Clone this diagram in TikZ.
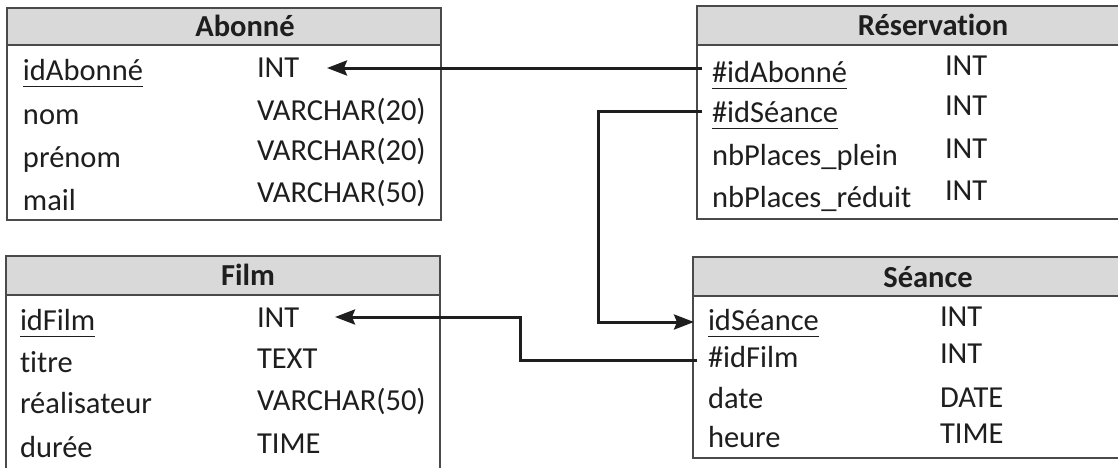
\documentclass[tikz,border=0pt]{standalone}
\usepackage{fontspec}
\setmainfont{Carlito}[Ligatures=NoCommon]
\usetikzlibrary{arrows.meta}
\definecolor{ink}{HTML}{1E1E1E}
\definecolor{hdr}{HTML}{D9D9D9}
\definecolor{rule}{HTML}{4A4A4A}
\newcommand\ulx[1]{\setbox0\hbox{#1}\rlap{\rule[-7pt]{\wd0}{1.3pt}}\box0}
\tikzset{
  tbl/.style={draw=rule, line width=1.2pt, fill=white},
  hdrbox/.style={draw=rule, line width=1.2pt, fill=hdr},
  txt/.style={inner sep=0pt, outer sep=0pt, text=ink, anchor=base west, font=\fontsize{30.5}{34}\selectfont},
  ttl/.style={inner sep=0pt, outer sep=0pt, text=ink, anchor=base, font=\fontsize{30.5}{34}\selectfont\bfseries},
  fk/.style={draw=ink, line width=3pt, -{Stealth[length=20pt,width=15pt,inset=3pt]}},
  fkline/.style={draw=ink, line width=3pt}
}
\begin{document}
\begin{tikzpicture}[x=1pt,y=-1pt]
\useasboundingbox (0,0) rectangle (1118,467);
\clip (0,0) rectangle (1118,467);
% ---------- Abonne
\draw[tbl] (7,8) rectangle (441,220);
\draw[hdrbox] (7,8) rectangle (441,45);
\node[ttl] (abT) at (245,36) {Abonné};
\node[txt] (ab1) at (23,80) {\ulx{idAbonné}};
\node[txt] (ab2) at (23,124) {nom};
\node[txt] (ab3) at (23,167) {prénom};
\node[txt] (ab4) at (23,210) {mail};
\node[txt] (abt1) at (257,77) {INT};
\node[txt] (abt2) at (257,120) {VARCHAR(20)};
\node[txt] (abt3) at (257,160) {VARCHAR(20)};
\node[txt] (abt4) at (257,202) {VARCHAR(50)};
% ---------- Reservation
\draw[tbl] (697,6) rectangle (1130,219);
\draw[hdrbox] (697,6) rectangle (1130,45);
\node[ttl] (reT) at (933,35) {Réservation};
\node[txt] (re1) at (712,82) {\ulx{\#idAbonné}};
\node[txt] (re2) at (712,122) {\ulx{\#idSéance}};
\node[txt] (re3) at (712,165) {nbPlaces\_plein};
\node[txt] (re4) at (712,207) {nbPlaces\_réduit};
\node[txt] (ret1) at (945,75) {INT};
\node[txt] (ret2) at (945,115) {INT};
\node[txt] (ret3) at (945,158) {INT};
\node[txt] (ret4) at (945,200) {INT};
% ---------- Film
\draw[tbl] (6,256) rectangle (440,475);
\draw[hdrbox] (6,256) rectangle (440,295);
\node[ttl] (fiT) at (248,285) {Film};
\node[txt] (fi1) at (20,330) {\ulx{idFilm}};
\node[txt] (fi2) at (20,372) {titre};
\node[txt] (fi3) at (20,413) {réalisateur};
\node[txt] (fi4) at (20,457) {durée};
\node[txt] (fit1) at (257,327) {INT};
\node[txt] (fit2) at (257,368) {TEXT};
\node[txt] (fit3) at (257,410) {VARCHAR(50)};
\node[txt] (fit4) at (257,453) {TIME};
% ---------- Seance
\draw[tbl] (693,257) rectangle (1130,458);
\draw[hdrbox] (693,257) rectangle (1130,296);
\node[ttl] (seT) at (928,287) {Séance};
\node[txt] (se1) at (708,330) {\ulx{idSéance}};
\node[txt] (se2) at (708,367) {\#idFilm};
\node[txt] (se3) at (708,408) {date};
\node[txt] (se4) at (708,447) {heure};
\node[txt] (set1) at (940,326) {INT};
\node[txt] (set2) at (940,363) {INT};
\node[txt] (set3) at (940,407) {DATE};
\node[txt] (set4) at (940,443) {TIME};
% ---------- ports
\coordinate (pReAb) at (702,68);
\coordinate (pAbId) at (327,68);
\coordinate (pReSe) at (702,111);
\coordinate (pSeId) at (694,322);
\coordinate (pSeFi) at (697,360);
\coordinate (pFiId) at (335,317);
% ---------- connectors
\draw[fk] (pReAb) -- (pAbId);
\draw[fk] (pReSe) -- (598,111) -- (598,322) -- (pSeId);
\draw[fk] (pSeFi) -- (520,360) -- (520,317) -- (pFiId);
\end{tikzpicture}
\end{document}
